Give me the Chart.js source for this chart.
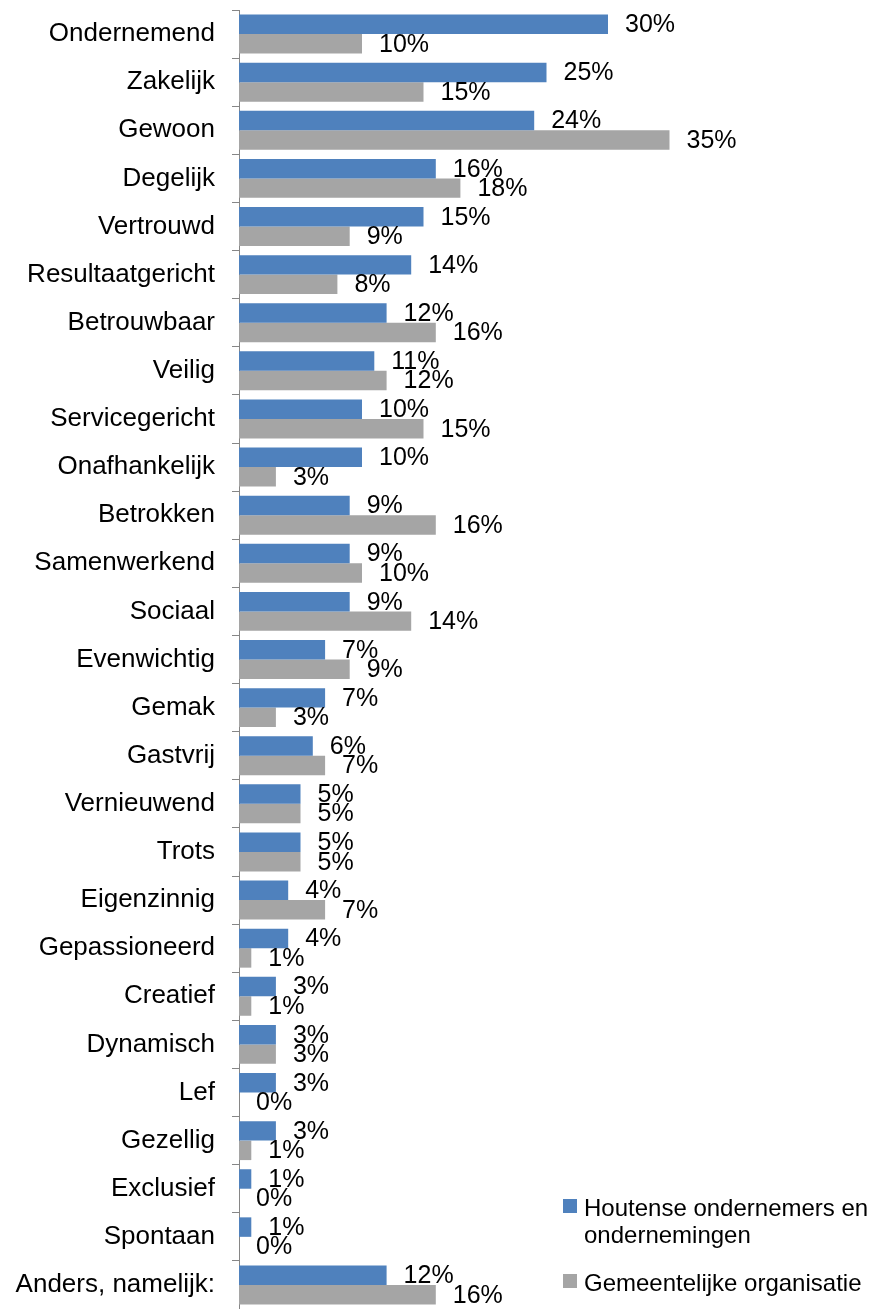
<!DOCTYPE html>
<html>
<head>
<meta charset="utf-8">
<script src="https://cdn.jsdelivr.net/npm/chart.js@4/dist/chart.umd.min.js"></script>
<style>
  html, body { margin: 0; padding: 0; background: #fff; }
  #wrap { width: 879px; height: 1309px; }
</style>
</head>
<body>
<div id="wrap"><canvas id="chart" width="879" height="1309"></canvas></div>
<script>
const categories = [
    'Ondernemend', 'Zakelijk', 'Gewoon', 'Degelijk', 'Vertrouwd', 'Resultaatgericht',
    'Betrouwbaar', 'Veilig', 'Servicegericht', 'Onafhankelijk', 'Betrokken',
    'Samenwerkend', 'Sociaal', 'Evenwichtig', 'Gemak', 'Gastvrij', 'Vernieuwend',
    'Trots', 'Eigenzinnig', 'Gepassioneerd', 'Creatief', 'Dynamisch', 'Lef',
    'Gezellig', 'Exclusief', 'Spontaan', 'Anders, namelijk:'
];
const ondernemers = [30, 25, 24, 16, 15, 14, 12, 11, 10, 10, 9, 9, 9, 7, 7, 6, 5, 5, 4, 4, 3, 3, 3, 3, 1, 1, 12];
const gemeente = [10, 15, 35, 18, 9, 8, 16, 12, 15, 3, 16, 10, 14, 9, 3, 7, 5, 5, 7, 1, 1, 3, 0, 1, 0, 0, 16];
const seriesNames = ['Houtense ondernemers en ondernemingen', 'Gemeentelijke organisatie'];
const seriesColors = ['#4F81BD', '#A5A5A5'];

const FONT = "'Liberation Sans', Arial, sans-serif";

// percentage next to each bar end
const valueLabels = {
    id: 'valueLabels',
    afterDatasetsDraw(chart) {
        const ctx = chart.ctx;
        ctx.save();
        ctx.font = `25px ${FONT}`;
        ctx.fillStyle = '#000';
        ctx.textAlign = 'left';
        ctx.textBaseline = 'middle';
        chart.data.datasets.forEach((ds, i) => {
            chart.getDatasetMeta(i).data.forEach((bar, j) => {
                ctx.fillText(ds.data[j] + '%', bar.x + 17, bar.y + 1);
            });
        });
        ctx.restore();
    }
};

// legend in the lower right corner, wrapped to the canvas width
const sideLegend = {
    id: 'sideLegend',
    afterDraw(chart) {
        const ctx = chart.ctx;
        const boxX = chart.width - 316;
        const textX = boxX + 21;
        const maxW = chart.width - textX - 4;
        const tops = [1199, 1274];
        ctx.save();
        ctx.font = `24px ${FONT}`;
        ctx.textBaseline = 'alphabetic';
        ctx.textAlign = 'left';
        chart.data.datasets.forEach((ds, i) => {
            const top = tops[i];
            ctx.fillStyle = ds.backgroundColor;
            ctx.fillRect(boxX, top, 14, 14);
            ctx.fillStyle = '#000';
            const lines = [];
            let line = '';
            ds.label.split(' ').forEach((w) => {
                const test = line ? line + ' ' + w : w;
                if (line && ctx.measureText(test).width > maxW) {
                    lines.push(line);
                    line = w;
                } else {
                    line = test;
                }
            });
            lines.push(line);
            lines.forEach((l, k) => ctx.fillText(l, textX, top + 17 + k * 27));
        });
        ctx.restore();
    }
};

new Chart(document.getElementById('chart'), {
    type: 'bar',
    data: {
        labels: categories,
        datasets: [
            { label: seriesNames[0], data: ondernemers, backgroundColor: seriesColors[0] },
            { label: seriesNames[1], data: gemeente, backgroundColor: seriesColors[1] }
        ]
    },
    options: {
        indexAxis: 'y',
        responsive: false,
        animation: false,
        categoryPercentage: 0.81,
        barPercentage: 1,
        layout: { padding: { top: 10, right: 148, bottom: 0, left: 0 } },
        plugins: {
            legend: { display: false },
            tooltip: { enabled: false }
        },
        scales: {
            x: {
                display: false,
                min: 0,
                max: 40
            },
            y: {
                afterFit: (scale) => {
                    scale.width = 239;
                    scale.paddingTop = 0;
                    scale.paddingBottom = 0;
                },
                grid: {
                    drawOnChartArea: false,
                    tickLength: 7,
                    color: '#868686'
                },
                border: { color: '#868686', width: 1 },
                ticks: {
                    padding: 17,
                    color: '#000',
                    font: { family: FONT, size: 26 }
                }
            }
        }
    },
    plugins: [valueLabels, sideLegend]
});
</script>
</body>
</html>
